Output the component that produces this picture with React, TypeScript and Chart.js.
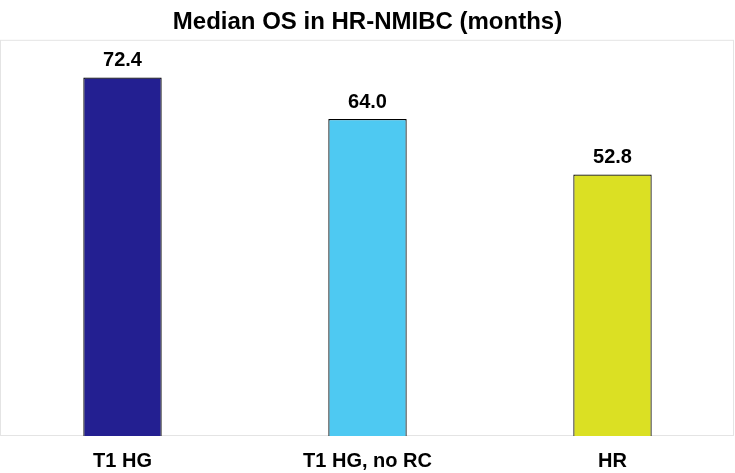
import React, { useEffect, useRef } from "react";
import { Chart, registerables } from "chart.js";

Chart.register(...registerables);

const categories = ["T1 HG", "T1 HG, no RC", "HR"];
const values = [72.4, 64.0, 52.8];
const valueLabels = ["72.4", "64.0", "52.8"];
const barColors = ["#231f91", "#4ec9f2", "#dbe023"];
const titleText = "Median OS in HR-NMIBC (months)";

const FONT = "'Liberation Sans', Arial, Helvetica, sans-serif";

const frameAndLabels = {
  id: "frameAndLabels",
  beforeDatasetsDraw(chart: any) {
    const { ctx, chartArea } = chart;
    ctx.save();
    ctx.strokeStyle = "#e4e4e4";
    ctx.lineWidth = 1;
    ctx.strokeRect(
      chartArea.left + 0.5,
      chartArea.top + 0.5,
      chartArea.right - chartArea.left - 2,
      chartArea.bottom - chartArea.top - 1
    );
    ctx.restore();
  },
  afterDatasetsDraw(chart: any) {
    const { ctx } = chart;
    const meta = chart.getDatasetMeta(0);
    ctx.save();
    ctx.font = `bold 20px ${FONT}`;
    ctx.fillStyle = "#000";
    ctx.textAlign = "center";
    ctx.textBaseline = "alphabetic";
    meta.data.forEach((bar: any, i: number) => {
      ctx.fillText(valueLabels[i], bar.x, bar.y - 11.5);
    });
    ctx.restore();
  },
};

export default function App() {
  const ref = useRef<HTMLCanvasElement | null>(null);
  useEffect(() => {
    document.body.style.margin = "0";
    const chart = new Chart(ref.current as HTMLCanvasElement, {
      type: "bar",
      data: {
        labels: categories,
        datasets: [
          {
            data: values,
            backgroundColor: barColors,
            borderColor: "#000",
            borderWidth: 1.2,
            barPercentage: 0.32,
            categoryPercentage: 1,
          },
        ],
      },
      options: {
        animation: false,
        responsive: false,
        maintainAspectRatio: false,
        layout: { padding: { left: 0, right: 0, top: 0, bottom: 0 } },
        plugins: {
          legend: { display: false },
          tooltip: { enabled: false },
          title: {
            display: true,
            text: titleText,
            color: "#000",
            font: { family: FONT, size: 24, weight: "bold" },
            padding: { top: 8, bottom: 3 },
          },
        },
        scales: {
          x: {
            grid: { display: false, drawTicks: false },
            border: { display: false },
            ticks: {
              color: "#000",
              font: { family: FONT, size: 20, weight: "bold" },
              padding: 13,
              maxRotation: 0,
            },
            afterFit(scale: any) {
              scale.height = 37;
            },
          },
          y: {
            display: false,
            min: 0,
            max: 80,
          },
        },
      },
      plugins: [frameAndLabels],
    });
    return () => chart.destroy();
  }, []);
  return (
    <div style={{ width: 735, height: 473 }}>
      <canvas ref={ref} width={735} height={473} style={{ display: "block" }} />
    </div>
  );
}
